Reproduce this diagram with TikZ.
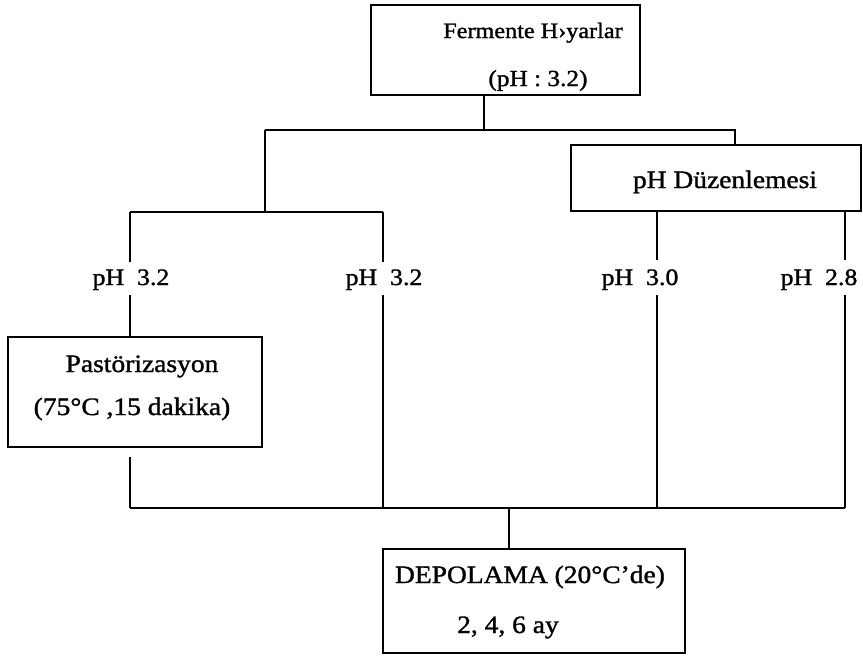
\documentclass[tikz,border=0pt]{standalone}
\usepackage{fontspec}
\setmainfont{Liberation Serif}[FakeStretch=1.1,FakeBold=1.3]
\begin{document}
\begin{tikzpicture}[x=1pt,y=-1pt,
  box/.style={draw,line width=2.3pt,inner sep=0pt,minimum width=#1},
  ln/.style={line width=2.3pt},
  txtA/.style={anchor=base,inner sep=0pt,font=\fontsize{22}{26}\selectfont},
  txtB/.style={anchor=base,inner sep=0pt,font=\fontsize{25}{30}\selectfont},
  lbl/.style={anchor=base,inner sep=0pt,font=\fontsize{23.5}{27}\selectfont}]
\useasboundingbox (0,0) rectangle (863,659);
% boxes
\node[box=269pt,minimum height=90pt] (top) at (505.5,50) {};
\node[box=290pt,minimum height=66pt] (phd) at (716,178) {};
\node[box=254pt,minimum height=110pt] (past) at (135,392) {};
\node[box=302pt,minimum height=104pt] (depo) at (534,601) {};
% texts
\node[txtA] (t1) at (533,38) {Fermente H›yarlar};
\node[txtA,font=\fontsize{23}{27}\selectfont] (t2) at (538,86) {(pH : 3.2)};
\node[txtB] (t3) at (725,188) {pH Düzenlemesi};
\node[txtB] (t4) at (142,372) {Pastörizasyon};
\node[txtB] (t5) at (132,415) {(75°C ,15 dakika)};
\node[txtB] (t6) at (530,583) {DEPOLAMA (20°C’de)};
\node[txtB] (t7) at (508,633) {2, 4, 6 ay};
% labels
\node[lbl] (l1) at (131,285) {pH\ \ 3.2};
\node[lbl] (l2) at (384,285) {pH\ \ 3.2};
\node[lbl] (l3) at (640,285) {pH\ \ 3.0};
\node[lbl] (l4) at (819,285) {pH\ \ 2.8};
% junction coordinates
\coordinate (j0) at (484,130);
\coordinate (ja) at (265,130);
\coordinate (jb) at (735,130);
\coordinate (jc) at (265,212);
\coordinate (k1) at (130,212);
\coordinate (k2) at (383,212);
\coordinate (x1) at (130,262);
\coordinate (y1) at (130,295);
\coordinate (x2) at (383,262);
\coordinate (y2) at (383,295);
\coordinate (x3) at (657,260);
\coordinate (y3) at (657,295);
\coordinate (x4) at (845,260);
\coordinate (y4) at (845,295);
\coordinate (p1) at (130,457);
\coordinate (b1) at (130,508);
\coordinate (b2) at (383,508);
\coordinate (b3) at (657,508);
\coordinate (b4) at (845,508);
\coordinate (bm) at (509,508);
% connectors
\draw[ln] (top.south -| j0) -- (j0);
\draw[ln] (ja) -- (jb) -- (phd.north -| jb);
\draw[ln] (ja) -- (jc);
\draw[ln] (k1) -- (k2);
\draw[ln] (k1) -- (x1);
\draw[ln] (y1) -- (past.north -| y1);
\draw[ln] (k2) -- (x2);
\draw[ln] (y2) -- (b2);
\draw[ln] (phd.south -| x3) -- (x3);
\draw[ln] (y3) -- (b3);
\draw[ln] (phd.south -| x4) -- (x4);
\draw[ln] (y4) -- (b4);
\draw[ln] (p1) -- (b1);
\draw[ln] (b1) -- (b4);
\draw[ln] (bm) -- (depo.north -| bm);
\end{tikzpicture}
\end{document}
